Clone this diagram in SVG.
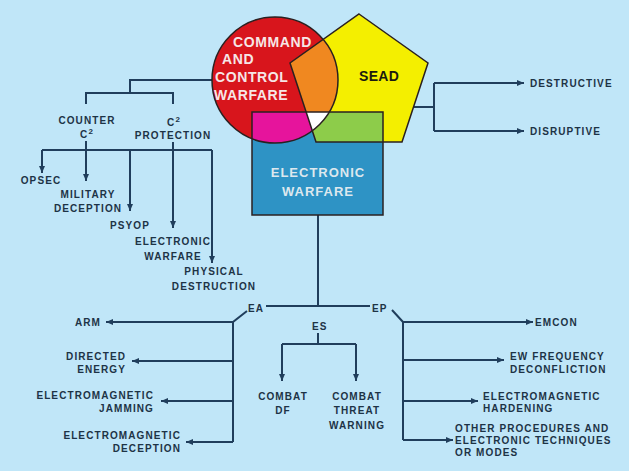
<svg xmlns="http://www.w3.org/2000/svg" width="629" height="471" viewBox="0 0 629 471">
<style>
.ln{fill:none;stroke:#203e5c;stroke-width:2}
.ar{marker-end:url(#ah)}
.t{font-family:"Liberation Sans",Arial,sans-serif;font-weight:bold;font-size:10px;letter-spacing:1.1px;fill:#1d3346}
.m{text-anchor:middle}
.e{text-anchor:end}
.sup{font-size:8px;baseline-shift:super}
.big{font-family:"Liberation Sans",Arial,sans-serif;font-weight:bold}
.ol{fill:none;stroke:#2a2020;stroke-width:1.5}
</style>
<defs>
<marker id="ah" markerUnits="userSpaceOnUse" markerWidth="7" markerHeight="6" refX="7" refY="3" orient="auto">
<path d="M0,0 L7,3 L0,6 z" fill="#203e5c"/>
</marker>
<clipPath id="cCircle"><circle cx="275" cy="80" r="63"/></clipPath>
<clipPath id="cPent"><polygon points="359,14 428,63 402,142 316,142 290,63"/></clipPath>
</defs>
<rect x="0" y="0" width="629" height="471" fill="#c0e6f8"/>

<g id="connectors">
<path class="ln" d="M212,80 H130 V93"/>
<path class="ln" d="M86,104 V93 H173 V104"/>
<path class="ln" d="M42,150 H212"/>
<path class="ln ar" d="M42,150 V173"/>
<path class="ln ar" d="M130,150 V211"/>
<path class="ln ar" d="M212,150 V263"/>
<path class="ln ar" d="M86,141 V181"/>
<path class="ln ar" d="M173,142 V228"/>
<path class="ln" d="M414,107 H434"/>
<path class="ln" d="M434,83 V131"/>
<path class="ln ar" d="M434,83 H524"/>
<path class="ln ar" d="M434,131 H524"/>
<path class="ln" d="M318,215 V306"/>
<path class="ln" d="M266,306 H370"/>
<path class="ln" d="M318,333 V344"/>
<path class="ln" d="M282,344 H356"/>
<path class="ln ar" d="M282,344 V381"/>
<path class="ln ar" d="M356,344 V381"/>
<path class="ln" d="M247,311 L233,322 V442"/>
<path class="ln ar" d="M233,322 H106"/>
<path class="ln ar" d="M233,361 H132"/>
<path class="ln ar" d="M233,401 H161"/>
<path class="ln ar" d="M233,442 H186"/>
<path class="ln" d="M392,310 L403,322 V440"/>
<path class="ln ar" d="M403,322 H533"/>
<path class="ln ar" d="M403,360 H504"/>
<path class="ln ar" d="M403,401 H478"/>
<path class="ln ar" d="M403,440 H453"/>
</g>

<g id="venn">
<g id="c2w">
<circle cx="275" cy="80" r="63" fill="#d8151c"/>
</g>
<g id="sead">
<polygon points="359,14 428,63 402,142 316,142 290,63" fill="#f4ef00"/>
</g>
<g id="ew">
<rect x="252" y="112" width="131" height="103" fill="#2e93c5"/>
</g>
<g id="overlaps">
<polygon points="359,14 428,63 402,142 316,142 290,63" fill="#f08820" clip-path="url(#cCircle)"/>
<rect x="252" y="112" width="131" height="103" fill="#e6149c" clip-path="url(#cCircle)"/>
<rect x="252" y="112" width="131" height="103" fill="#8dcc4a" clip-path="url(#cPent)"/>
<g clip-path="url(#cCircle)"><rect x="252" y="112" width="131" height="103" fill="#ffffff" clip-path="url(#cPent)"/></g>
</g>
<g id="outlines">
<circle class="ol" cx="275" cy="80" r="63"/>
<polygon class="ol" points="359,14 428,63 402,142 316,142 290,63"/>
<rect class="ol" x="252" y="112" width="131" height="103" stroke="#1e3a5a"/>
</g>
<g id="venn-labels">
<text class="big" font-size="14" letter-spacing="0.6" fill="#f6e6e6"><tspan x="233" y="47">COMMAND</tspan><tspan x="222" y="64">AND</tspan><tspan x="215" y="82">CONTROL</tspan><tspan x="214" y="100">WARFARE</tspan></text>
<text class="big" font-size="14" letter-spacing="0.3" fill="#1a1a10" x="359" y="81">SEAD</text>
<text class="big" font-size="13" letter-spacing="1" fill="#dde8ee" text-anchor="middle"><tspan x="318" y="177">ELECTRONIC</tspan><tspan x="318" y="196">WARFARE</tspan></text>
</g>
</g>

<g id="c2-labels">
<g id="counter-c2"><text class="t m"><tspan x="87" y="124">COUNTER</tspan></text><text class="t m" x="87" y="138">C<tspan class="sup">2</tspan></text></g>
<g id="c2-protection"><text class="t m" x="174" y="126">C<tspan class="sup">2</tspan></text><text class="t m" x="173" y="139">PROTECTION</text></g>
<g id="opsec"><text class="t m" x="41" y="184">OPSEC</text></g>
<g id="military-deception"><text class="t m"><tspan x="88" y="198">MILITARY</tspan><tspan x="88" y="212">DECEPTION</tspan></text></g>
<g id="psyop"><text class="t m" x="130" y="229">PSYOP</text></g>
<g id="c2-ew"><text class="t m"><tspan x="173" y="245">ELECTRONIC</tspan><tspan x="173" y="260">WARFARE</tspan></text></g>
<g id="physical-destruction"><text class="t m"><tspan x="214" y="275">PHYSICAL</tspan><tspan x="214" y="290">DESTRUCTION</tspan></text></g>
</g>

<g id="sead-labels">
<g id="destructive"><text class="t" x="530" y="87">DESTRUCTIVE</text></g>
<g id="disruptive"><text class="t" x="530" y="135">DISRUPTIVE</text></g>
</g>

<g id="ew-labels">
<g id="ea"><text class="t" x="248" y="312">EA</text></g>
<g id="es"><text class="t" x="312" y="330">ES</text></g>
<g id="ep"><text class="t" x="372" y="312">EP</text></g>
<g id="arm"><text class="t e" x="101" y="326">ARM</text></g>
<g id="directed-energy"><text class="t e"><tspan x="126" y="360">DIRECTED</tspan><tspan x="126" y="373">ENERGY</tspan></text></g>
<g id="em-jamming"><text class="t e"><tspan x="154" y="399">ELECTROMAGNETIC</tspan><tspan x="154" y="412">JAMMING</tspan></text></g>
<g id="em-deception"><text class="t e"><tspan x="181" y="439">ELECTROMAGNETIC</tspan><tspan x="181" y="452">DECEPTION</tspan></text></g>
<g id="combat-df"><text class="t m"><tspan x="283" y="400">COMBAT</tspan><tspan x="283" y="414">DF</tspan></text></g>
<g id="combat-threat-warning"><text class="t m"><tspan x="357" y="400">COMBAT</tspan><tspan x="357" y="414">THREAT</tspan><tspan x="357" y="429">WARNING</tspan></text></g>
<g id="emcon"><text class="t" x="535" y="326">EMCON</text></g>
<g id="ew-freq"><text class="t"><tspan x="510" y="360">EW FREQUENCY</tspan><tspan x="510" y="373">DECONFLICTION</tspan></text></g>
<g id="em-hardening"><text class="t"><tspan x="483" y="400">ELECTROMAGNETIC</tspan><tspan x="483" y="412">HARDENING</tspan></text></g>
<g id="other"><text class="t"><tspan x="455" y="432">OTHER PROCEDURES AND</tspan><tspan x="455" y="444">ELECTRONIC TECHNIQUES</tspan><tspan x="455" y="456">OR MODES</tspan></text></g>
</g>
</svg>
